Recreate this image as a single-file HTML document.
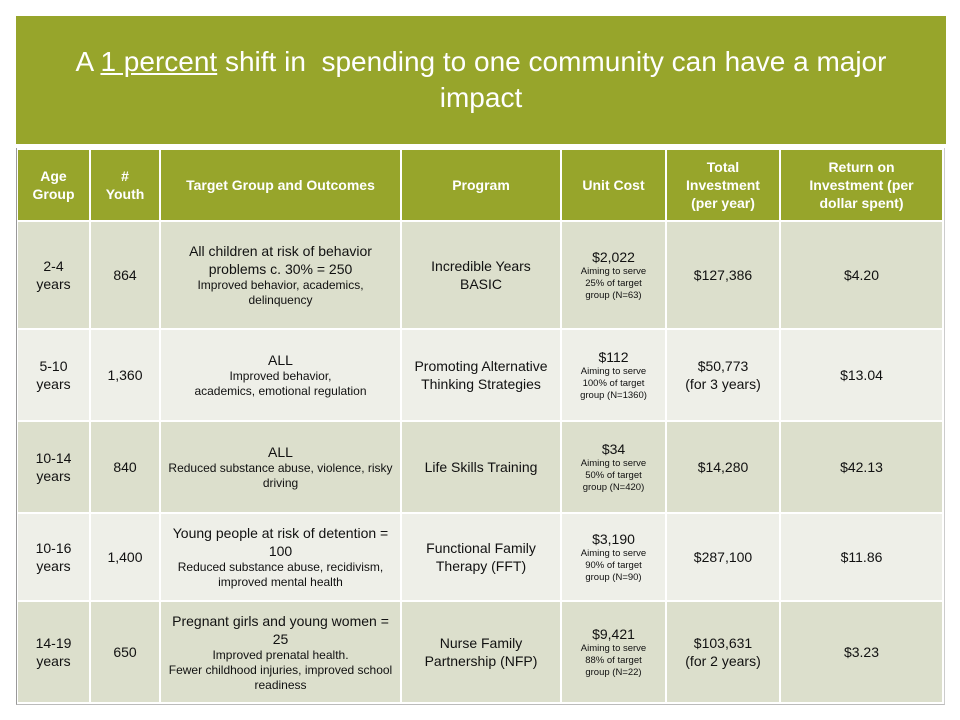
<!DOCTYPE html>
<html><head><meta charset="utf-8"><style>
body{margin:0;width:960px;height:720px;background:#fff;position:relative;overflow:hidden;font-family:"Liberation Sans",Arial,sans-serif;}
#title{position:absolute;left:16px;top:16px;width:930px;height:128px;background:#97a52b;color:#fff;font-size:28px;text-align:center;display:flex;align-items:center;justify-content:center;line-height:36px;}
#title span{display:block;width:880px}
.c{position:absolute;display:flex;flex-direction:column;align-items:center;justify-content:center;text-align:center;color:#111;font-size:14px;line-height:18px;box-sizing:border-box;padding:0 4px;}
.h{background:#97a52b;color:#fff;font-weight:bold;font-size:14px;line-height:18px;}
.s{font-size:12px;line-height:15px;}
.t{font-size:9.5px;line-height:12px;letter-spacing:0;}
.o{background:#dcdfcc;}
.e{background:#eeefe8;}
#frame{position:absolute;left:16px;top:148px;width:929px;height:557px;border-left:1px solid #999;border-bottom:1px solid #bbb;border-right:1px solid #ccc;box-sizing:border-box}
</style></head><body>
<div id="title"><span>A <u>1 percent</u> shift in&nbsp; spending to one community can have a major impact</span></div>
<div id="frame"></div>
<div id="tbl"></div>
<script>
const cols=[18,91,161,402,562,667,781,944];
const rows=[150,222,330,422,514,602,704];
const header=['Age<br>Group','#<br>Youth','Target Group and Outcomes','Program','Unit Cost','Total<br>Investment<br>(per year)','Return on<br>Investment (per<br>dollar spent)'];
const ages=['2-4<br>years','5-10<br>years','10-14<br>years','10-16<br>years','14-19<br>years'];
const youth=['864','1,360','840','1,400','650'];
const target=[
'All children at risk of behavior problems c. 30% = 250<div class="s">Improved behavior, academics, delinquency</div>',
'ALL<div class="s">Improved behavior,<br>academics, emotional regulation</div>',
'ALL<div class="s">Reduced substance abuse, violence, risky driving</div>',
'Young people at risk of detention = 100<div class="s">Reduced substance abuse, recidivism, improved mental health</div>',
'Pregnant girls and young women = 25<div class="s">Improved prenatal health.<br>Fewer childhood injuries, improved school readiness</div>'];
const program=['Incredible Years<br>BASIC','Promoting Alternative Thinking Strategies','Life Skills Training','Functional Family Therapy (FFT)','Nurse Family Partnership (NFP)'];
const unit=['$2,022<div class="t">Aiming to serve<br>25% of target<br>group (N=63)</div>','$112<div class="t">Aiming to serve<br>100% of target<br>group (N=1360)</div>','$34<div class="t">Aiming to serve<br>50% of target<br>group (N=420)</div>','$3,190<div class="t">Aiming to serve<br>90% of target<br>group (N=90)</div>','$9,421<div class="t">Aiming to serve<br>88% of target<br>group (N=22)</div>'];
const total=['$127,386','$50,773<br>(for 3 years)','$14,280','$287,100','$103,631<br>(for 2 years)'];
const roi=['$4.20','$13.04','$42.13','$11.86','$3.23'];
const names=['age-group','youth-count','target-group','program','unit-cost','total-investment','return-on-investment'];
const tbl=document.getElementById('tbl');
function cell(r,c,html,cls){
  const d=document.createElement('div');
  d.className='c '+cls;
  d.style.left=cols[c]+'px';d.style.top=rows[r]+'px';
  d.style.width=(cols[c+1]-cols[c]-2)+'px';d.style.height=(rows[r+1]-rows[r]-2)+'px';
  d.innerHTML=html;
  
  
  tbl.appendChild(d);
}
header.forEach((h,c)=>cell(0,c,h,'h'));
const data=[ages,youth,target,program,unit,total,roi];
for(let i=0;i<5;i++){data.forEach((arr,c)=>cell(i+1,c,arr[i],i%2==0?'o':'e'));}
</script>
</body></html>
